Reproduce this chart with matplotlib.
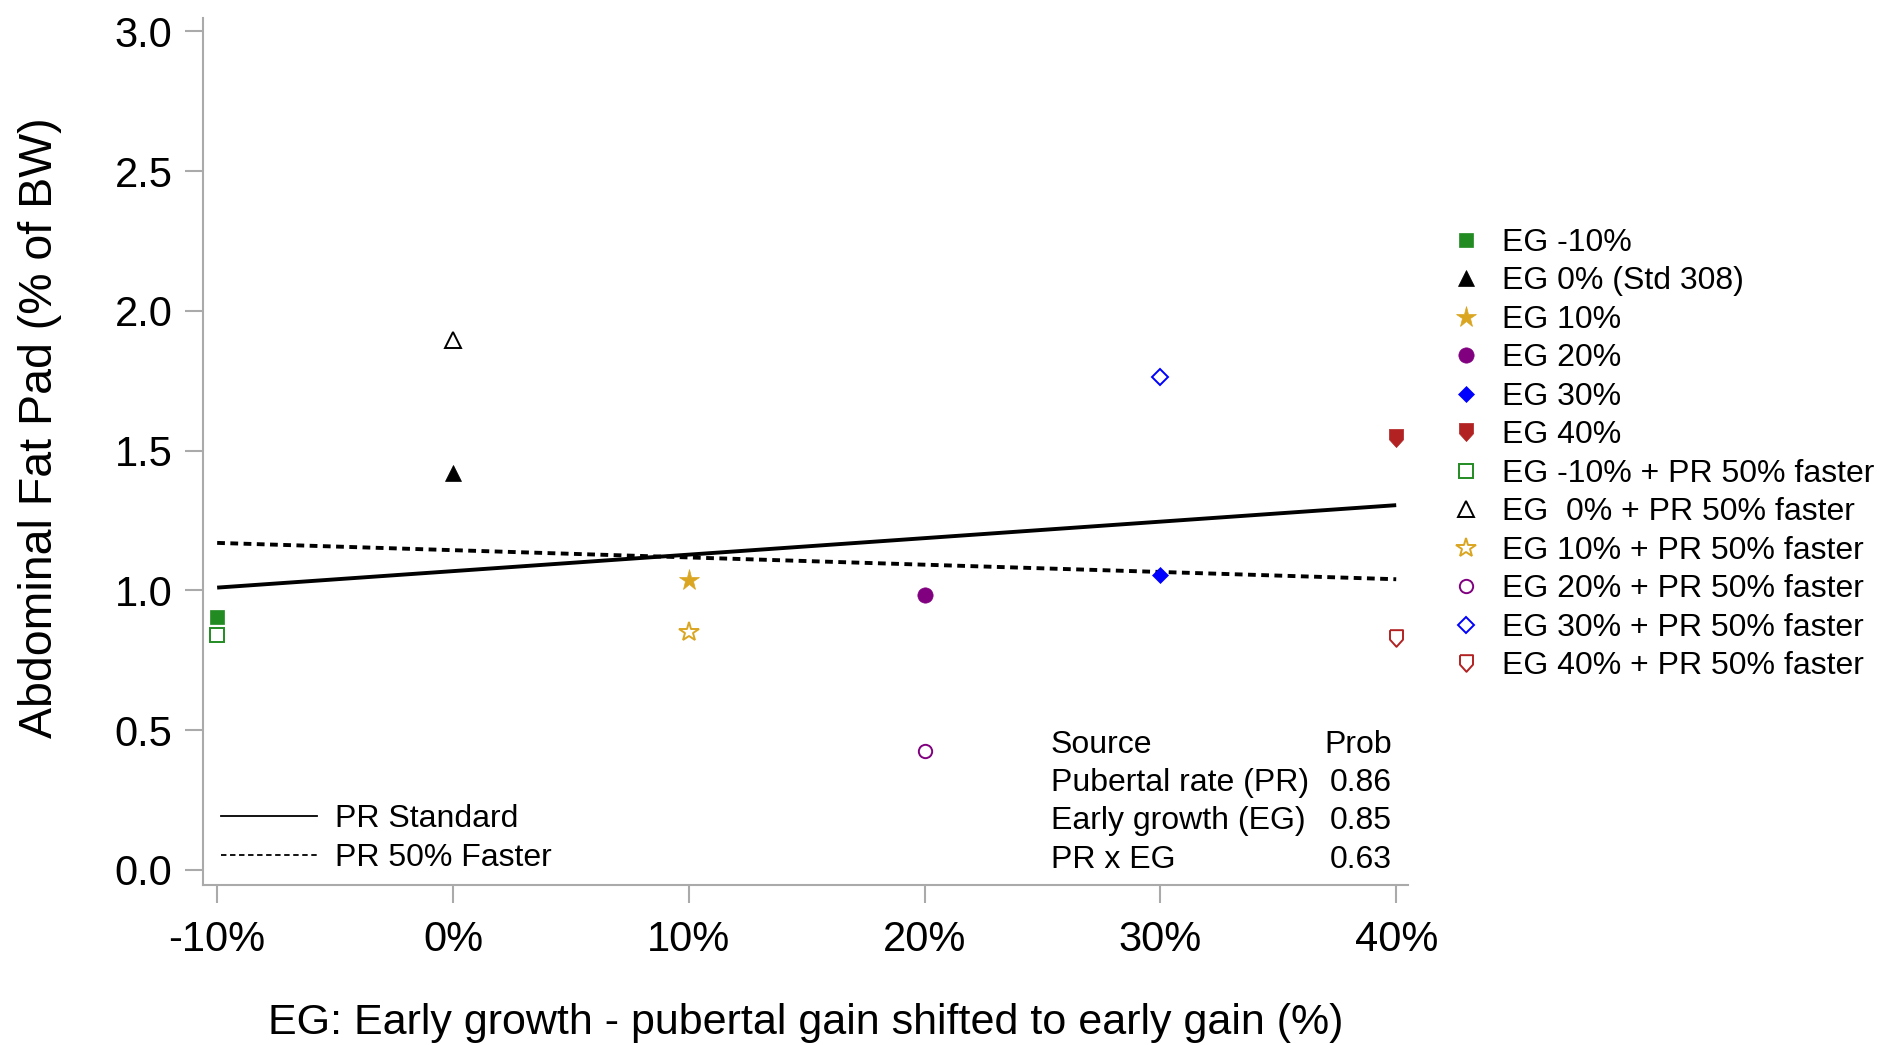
import matplotlib
matplotlib.use("Agg")
import matplotlib.pyplot as plt
from matplotlib.lines import Line2D

plt.rcParams['font.family'] = ['Liberation Sans', 'DejaVu Sans']

# early growth levels (%), fat pad (% of BW)
eg = [-10, 0, 10, 20, 30, 40]
fat_std = [0.905, 1.42, 1.037, 0.984, 1.055, 1.545]
fat_fast = [0.841, 1.896, 0.85, 0.426, 1.765, 0.83]

# fitted lines
fit_x = [-10, 40]
fit_std = [1.01, 1.305]
fit_fast = [1.17, 1.04]

labels_std = ['EG -10%', 'EG 0% (Std 308)', 'EG 10%', 'EG 20%', 'EG 30%', 'EG 40%']
labels_fast = ['EG -10% + PR 50% faster', 'EG  0% + PR 50% faster', 'EG 10% + PR 50% faster',
               'EG 20% + PR 50% faster', 'EG 30% + PR 50% faster', 'EG 40% + PR 50% faster']

sources = ['Pubertal rate (PR)', 'Early growth (EG)', 'PR x EG']
probs = [0.86, 0.85, 0.63]

xticks = [-10, 0, 10, 20, 30, 40]
yticks = [0.0, 0.5, 1.0, 1.5, 2.0, 2.5, 3.0]

colors = ['#228B22', 'black', '#DAA520', '#800080', '#0000FF', '#B22222']
shield = [(-0.78, 1), (0.78, 1), (0.78, -0.14), (0, -1), (-0.78, -0.14), (-0.78, 1)]
markers = ['s', '^', '*', 'o', 'D', shield]
sizes = [10.3, 12, 15.5, 11, 8.5, 13]
sizes_open = [9.6, 11.5, 15, 9.6, 7.9, 12]

fig = plt.figure(figsize=(18.95, 10.45), dpi=100)
ax = fig.add_axes([203 / 1895, 160 / 1045, 1205 / 1895, 867 / 1045])

ax.plot(fit_x, fit_std, color='black', lw=2.8, solid_capstyle='butt')
ax.plot(fit_x, fit_fast, color='black', lw=2.8, dashes=(2.0, 1.4))

handles = []
for i in range(len(eg)):
    h, = ax.plot([eg[i]], [fat_std[i]], linestyle='none', marker=markers[i],
                 ms=sizes[i], color=colors[i], mec=colors[i], mew=0.5, label=labels_std[i])
    handles.append(h)
for i in range(len(eg)):
    h, = ax.plot([eg[i]], [fat_fast[i]], linestyle='none', marker=markers[i],
                 ms=sizes_open[i], mfc='white', mec=colors[i], mew=1.4, label=labels_fast[i])
    handles.append(h)

ax.set_xlim(-10.6, 40.5)
ax.set_ylim(-0.054, 3.048)
ax.set_xticks(xticks)
ax.set_xticklabels([f'{v}%' for v in xticks])
ax.set_yticks(yticks)
ax.set_yticklabels([f'{v:.1f}' for v in yticks])

for s in ['top', 'right']:
    ax.spines[s].set_visible(False)
for s in ['left', 'bottom']:
    ax.spines[s].set_color('#aaaaaa')
    ax.spines[s].set_linewidth(1.5)
ax.tick_params(axis='both', colors='#aaaaaa', length=13, width=1.5, labelcolor='black', labelsize=30)
ax.tick_params(axis='x', pad=12)
ax.tick_params(axis='y', pad=9)

ax.set_ylabel('Abdominal Fat Pad (% of BW)', fontsize=33.5)
ax.yaxis.set_label_coords(-0.117, 0.528)
ax.set_xlabel('EG: Early growth - pubertal gain shifted to early gain (%)', fontsize=31)
ax.xaxis.set_label_coords(0.5, -0.136)

# marker legend outside on the right
fig.legend(handles=handles, loc='upper left', bbox_to_anchor=(1453 / 1895, 1 - 228 / 1045),
           frameon=False, fontsize=23, handlelength=0.8, handletextpad=0.72,
           labelspacing=0.266, borderpad=0, borderaxespad=0)

# line legend inside lower left
line_handles = [Line2D([], [], color='black', lw=1.3),
                Line2D([], [], color='black', lw=1.3, dashes=(3, 2))]
ax.legend(line_handles, ['PR Standard', 'PR 50% Faster'], loc='lower left',
          bbox_to_anchor=(0.0149, 0.014), frameon=False, fontsize=23,
          handlelength=3.0, handletextpad=0.56, labelspacing=0.266,
          borderpad=0, borderaxespad=0)

# probability table
row_y = [0.1618 - 0.0442 * k for k in range(len(sources) + 1)]
ax.text(0.7037, row_y[0], 'Source', transform=ax.transAxes, fontsize=23, va='center', ha='left')
ax.text(0.9867, row_y[0], 'Prob', transform=ax.transAxes, fontsize=23, va='center', ha='right')
for k in range(len(sources)):
    ax.text(0.7037, row_y[k + 1], sources[k], transform=ax.transAxes, fontsize=23,
            va='center', ha='left')
    ax.text(0.9867, row_y[k + 1], f'{probs[k]:.2f}', transform=ax.transAxes, fontsize=23,
            va='center', ha='right')

fig.savefig('out.png', dpi=100)
